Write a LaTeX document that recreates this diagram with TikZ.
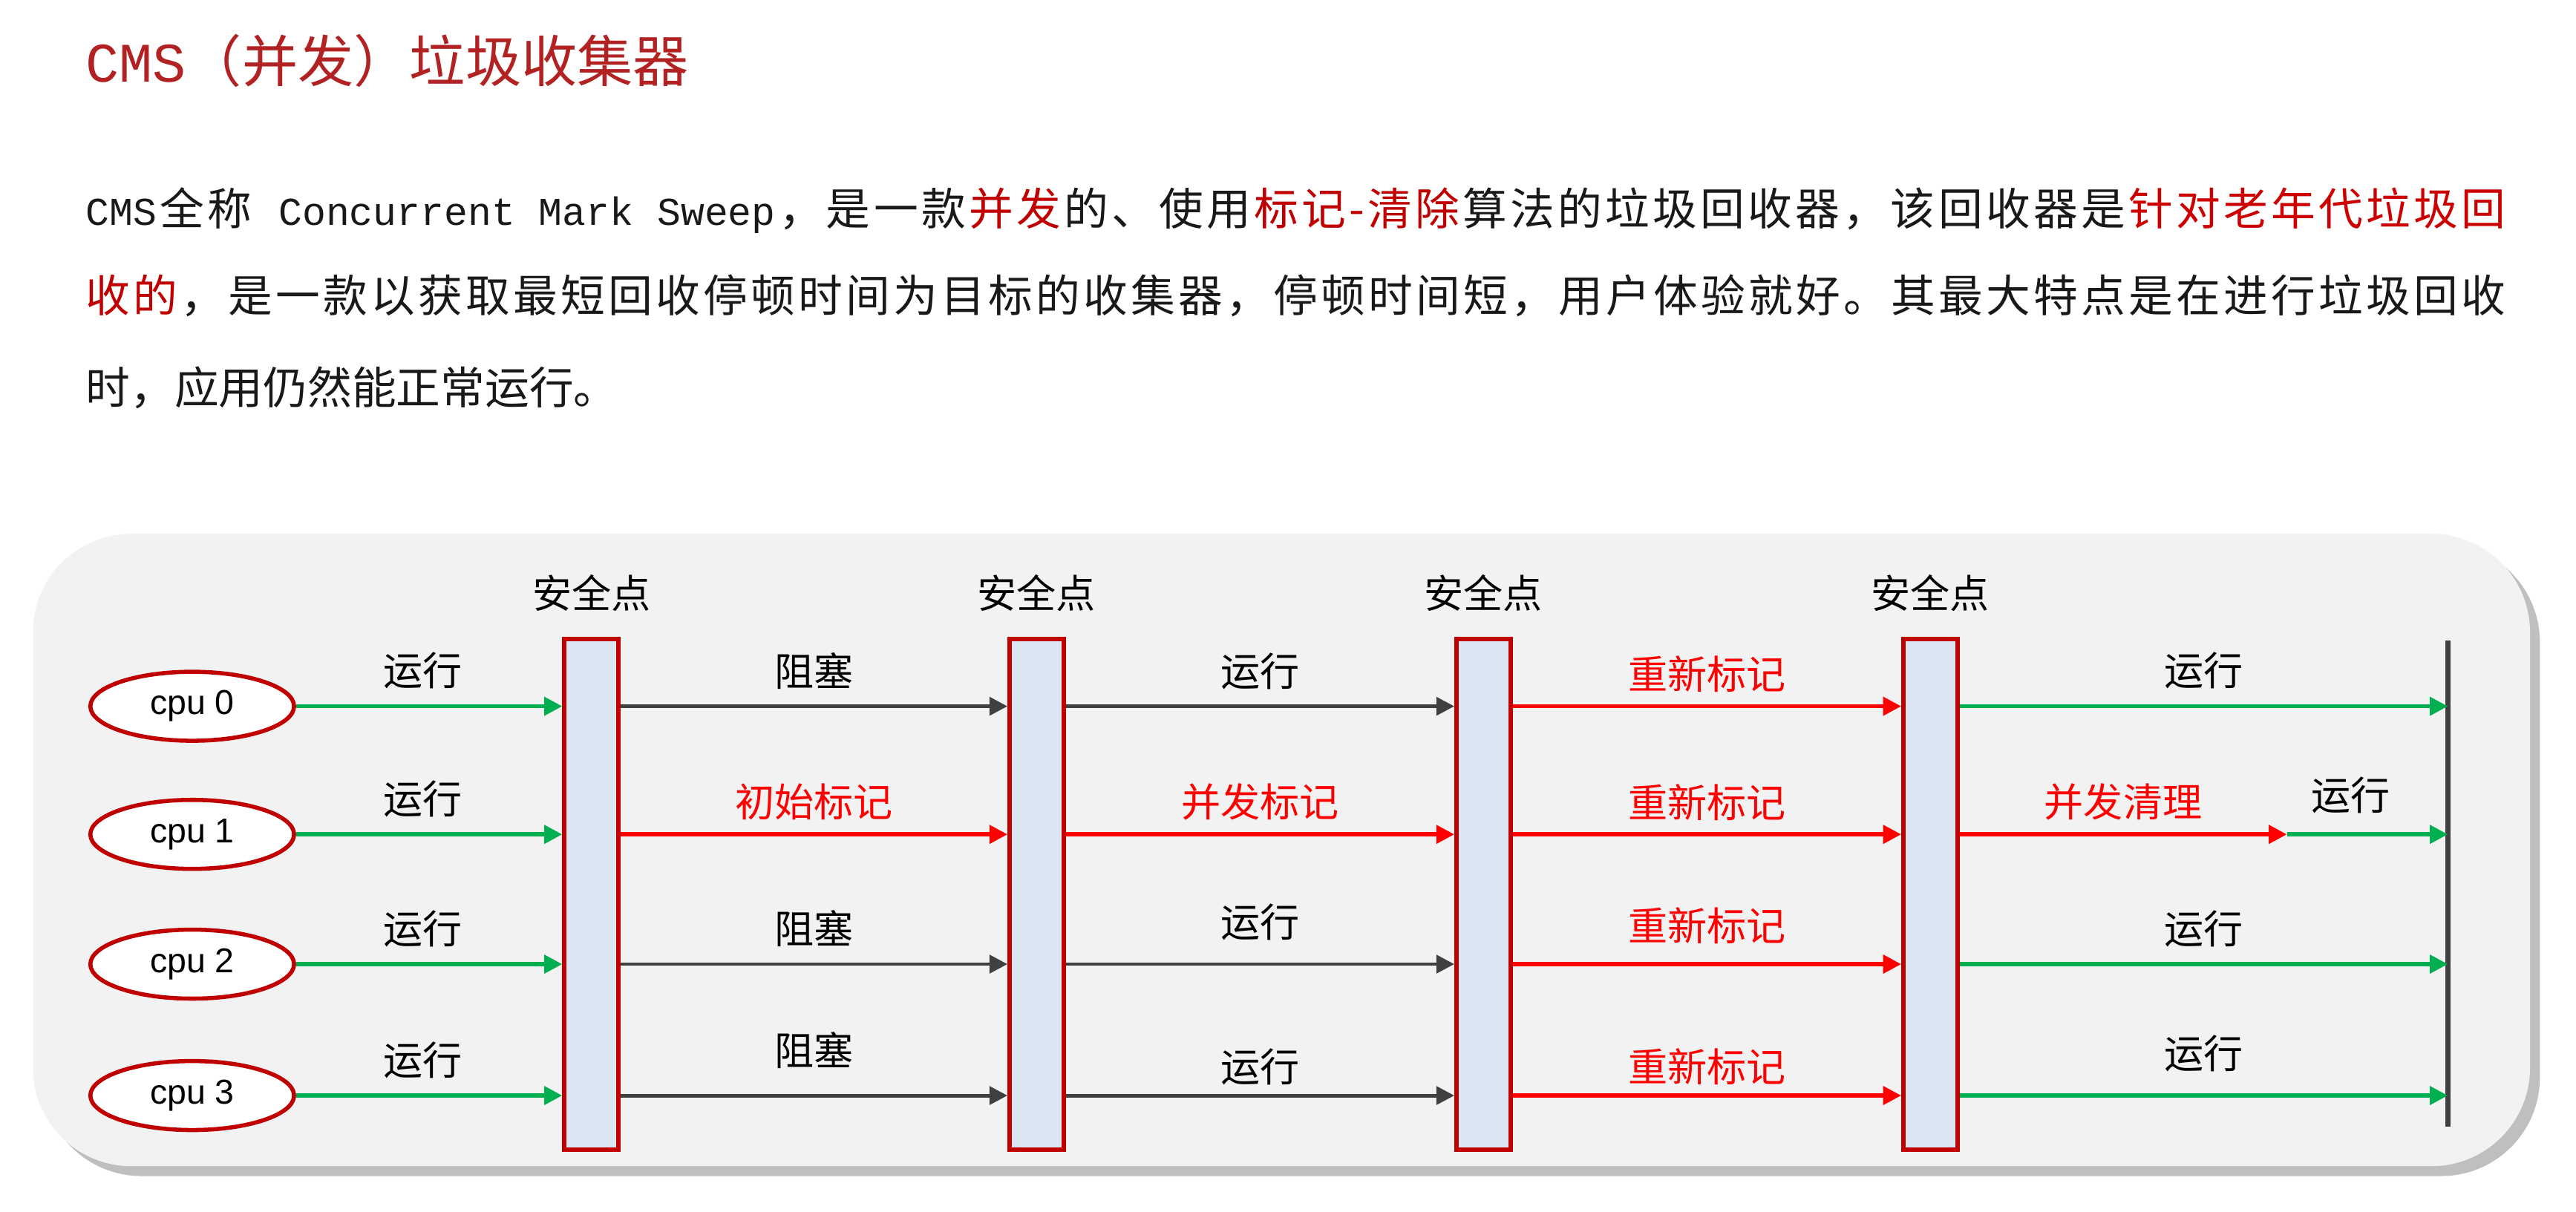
\documentclass[tikz,border=0pt]{standalone}
\usepackage{fontspec}
\newfontfamily\cjk{Noto Sans CJK SC}
\newfontfamily\mono{Liberation Mono}
\newfontfamily\arial{Liberation Sans}
\usetikzlibrary{positioning,arrows.meta,shapes.geometric}
\definecolor{titlered}{HTML}{B22222}
\definecolor{hired}{HTML}{C00000}
\definecolor{runG}{HTML}{00B050}
\definecolor{blkG}{HTML}{404040}
\definecolor{barB}{HTML}{DCE6F2}
\definecolor{panel}{HTML}{F2F2F2}
\def\spr#1{\ifx\relax#1\else#1\hfil\expandafter\spr\fi}
\tikzset{
  cpubox/.style={ellipse, draw=hired, line width=2.5pt, fill=white,
    minimum width=124pt, minimum height=42pt, inner sep=0pt,
    font=\arial\fontsize{21}{21}\selectfont},
  safebar/.style={draw=hired, line width=2.5pt, fill=barB,
    minimum width=33pt, minimum height=311pt, inner sep=0pt},
  lbl/.style={font=\cjk\fontsize{24}{24}\selectfont, text=black},
  runarr/.style={draw=runG, line width=2.5pt, -{Triangle[length=11pt,width=11pt]}},
  blkarr/.style={draw=blkG, line width=2.2pt, -{Triangle[length=11pt,width=11pt]}},
  redarr/.style={draw=red, line width=2.5pt, -{Triangle[length=11pt,width=11pt]}},
}
\begin{document}
\begin{tikzpicture}[x=1pt,y=-1pt]
  \useasboundingbox (0,0) rectangle (1568,737.5);
  \newcommand\body{\cjk\fontsize{27}{27}\selectfont}

  %% text above
  \node[anchor=west, text=titlered, font=\cjk\fontsize{34}{34}\selectfont, inner sep=0pt]
    (title) at (52,37) {{\mono CMS}（并发）垃圾收集器};
  \node[anchor=west, inner sep=0pt, font=\body, text=black!90] (line1) at (52,128)
    {\hbox to 1473pt{\spr{{\mono\fontsize{24}{24}\selectfont CMS}}全称{{\mono\fontsize{24}{24}\selectfont\ Concurrent Mark Sweep}}，是一款\relax{\color{hired}\spr 并发\relax}\spr 的、使用\relax{\color{hired}\spr 标记-清除\relax}\spr 算法的垃圾回收器，该回收器是\relax{\color{red!80!black}\spr 针对老年代垃圾\relax 回}}};
  \node[anchor=west, inner sep=0pt, font=\body, text=black!90] (line2) at (52,180)
    {\hbox to 1473pt{{\color{hired}\spr 收的\relax}\spr ，是一款以获取最短回收停顿时间为目标的收集器，停顿时间短，用户体验就好。其最大特点是在进行垃圾回\relax 收}};
  \node[anchor=west, inner sep=0pt, font=\body, text=black!90] (line3) at (52,236)
    {时，应用仍然能正常运行。};

  %% panel
  \fill[black!25, rounded corners=60pt] (26,331) rectangle (1546,716);
  \fill[panel, rounded corners=60pt] (20,325) rectangle (1540,710);

  %% safe points
  \foreach \i/\x in {1/360,2/631,3/903,4/1175}{
    \node[safebar] (sp\i) at (\x,544.5) {};
    \node[lbl, above=12pt of sp\i] (spl\i) {安全点};
  }
  \coordinate (endT) at (1490,390);
  \coordinate (endB) at (1490,686);
  \draw[blkG, line width=3pt] (endT) -- (endB);

  %% cpus
  \foreach \r/\y in {0/430,1/508,2/587,3/667}{
    \node[cpubox] (cpu\r) at (117,\y) {cpu \r};
    \draw[runarr] (cpu\r) -- node[lbl, above=6pt, xshift=-4pt] {运行} (sp1.west |- cpu\r);
  }

  %% row 0
  \draw[blkarr] (sp1.east |- cpu0) -- node[lbl, above=6pt] {阻塞} (sp2.west |- cpu0);
  \draw[blkarr] (sp2.east |- cpu0) -- node[lbl, above=6pt] {运行} (sp3.west |- cpu0);
  \draw[redarr] (sp3.east |- cpu0) -- node[lbl, above=4pt, text=red] {重新标记} (sp4.west |- cpu0);
  \draw[runarr] (sp4.east |- cpu0) -- node[lbl, above=6pt] {运行} (endT |- cpu0);
  %% row 1
  \coordinate (mid1) at (1392,508);
  \draw[redarr] (sp1.east |- cpu1) -- node[lbl, above=4pt, text=red] {初始标记} (sp2.west |- cpu1);
  \draw[redarr] (sp2.east |- cpu1) -- node[lbl, above=4pt, text=red] {并发标记} (sp3.west |- cpu1);
  \draw[redarr] (sp3.east |- cpu1) -- node[lbl, above=4pt, text=red] {重新标记} (sp4.west |- cpu1);
  \draw[redarr] (sp4.east |- cpu1) -- node[lbl, above=4pt, text=red] {并发清理} (mid1);
  \draw[runarr] (mid1) -- node[lbl, above=8pt, xshift=-10pt] {运行} (endT |- cpu1);
  %% row 2
  \draw[blkarr] (sp1.east |- cpu2) -- node[lbl, above=6pt] {阻塞} (sp2.west |- cpu2);
  \draw[blkarr] (sp2.east |- cpu2) -- node[lbl, above=10pt] {运行} (sp3.west |- cpu2);
  \draw[redarr] (sp3.east |- cpu2) -- node[lbl, above=8pt, text=red] {重新标记} (sp4.west |- cpu2);
  \draw[runarr] (sp4.east |- cpu2) -- node[lbl, above=6pt] {运行} (endT |- cpu2);
  %% row 3
  \draw[blkarr] (sp1.east |- cpu3) -- node[lbl, above=12pt] {阻塞} (sp2.west |- cpu3);
  \draw[blkarr] (sp2.east |- cpu3) -- node[lbl, above=2pt] {运行} (sp3.west |- cpu3);
  \draw[redarr] (sp3.east |- cpu3) -- node[lbl, above=2pt, text=red] {重新标记} (sp4.west |- cpu3);
  \draw[runarr] (sp4.east |- cpu3) -- node[lbl, above=10pt] {运行} (endT |- cpu3);
\end{tikzpicture}
\end{document}
